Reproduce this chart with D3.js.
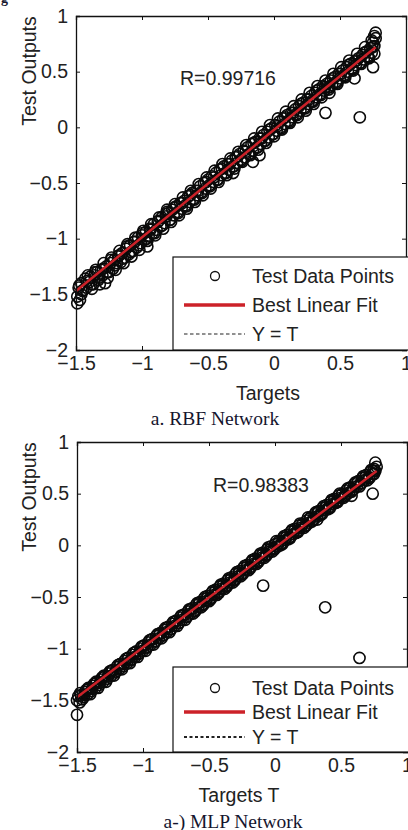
<!DOCTYPE html>
<html>
<head>
<meta charset="utf-8">
<script src="https://d3js.org/d3.v7.min.js"></script>
<style>
  body { margin: 0; background: #fff; }
  text { font-family: "Liberation Sans", Arial, sans-serif; fill: #222; }
  .cap { font-family: "Liberation Serif", "Times New Roman", serif; fill: #15152e; }
</style>
</head>
<body>
<div id="chart"></div>
<script>
// ---- data ----
var xTicks = [-1.5, -1, -0.5, 0, 0.5, 1];
var yTicks = [1, 0.5, 0, -0.5, -1, -1.5, -2];

// RBF network: [target, output]
var rbfPoints = [
  [-1.49,-1.52],[-1.49,-1.58],[-1.48,-1.44],[-1.47,-1.55],[-1.46,-1.40],[-1.45,-1.47],
  [-1.43,-1.36],[-1.42,-1.44],[-1.40,-1.39],[-1.39,-1.34],[-1.37,-1.41],[-1.36,-1.33],
  [-1.34,-1.30],[-1.33,-1.37],[-1.31,-1.28],[-1.30,-1.33],[-1.28,-1.40],[-1.27,-1.25],
  [-1.25,-1.30],[-1.24,-1.22],[-1.22,-1.27],[-1.21,-1.19],[-1.19,-1.22],[-1.18,-1.16],
  [-1.16,-1.21],[-1.15,-1.13],[-1.13,-1.17],[-1.12,-1.09],[-1.10,-1.14],[-1.09,-1.06],
  [-1.07,-1.11],[-1.06,-1.03],[-1.04,-1.08],[-1.03,-0.99],[-1.01,-1.04],[-1.00,-0.97],
  [-0.98,-1.01],[-0.97,-0.94],[-0.96,-1.07],[-0.95,-0.98],[-0.94,-0.91],[-0.92,-0.95],
  [-0.91,-0.87],[-0.89,-0.92],[-0.88,-0.85],[-0.86,-0.89],[-0.85,-0.81],[-0.83,-0.86],
  [-0.82,-0.78],[-0.81,-0.74],[-0.80,-0.77],[-0.79,-0.83],[-0.77,-0.74],[-0.76,-0.79],
  [-0.74,-0.71],[-0.73,-0.76],[-0.71,-0.68],[-0.70,-0.73],[-0.68,-0.66],[-0.67,-0.70],
  [-0.65,-0.62],[-0.64,-0.67],[-0.62,-0.59],[-0.61,-0.64],[-0.59,-0.57],[-0.58,-0.61],
  [-0.56,-0.53],[-0.55,-0.58],[-0.53,-0.50],[-0.52,-0.55],[-0.50,-0.47],[-0.49,-0.52],
  [-0.47,-0.44],[-0.46,-0.49],[-0.44,-0.41],[-0.43,-0.47],[-0.41,-0.38],[-0.40,-0.43],
  [-0.38,-0.35],[-0.37,-0.41],[-0.35,-0.33],[-0.34,-0.38],[-0.32,-0.30],[-0.31,-0.41],
  [-0.31,-0.35],[-0.29,-0.27],[-0.28,-0.32],[-0.26,-0.24],[-0.25,-0.29],[-0.23,-0.21],
  [-0.22,-0.27],[-0.20,-0.18],[-0.19,-0.24],[-0.17,-0.15],[-0.16,-0.31],[-0.16,-0.21],
  [-0.14,-0.13],[-0.13,-0.18],[-0.11,-0.25],[-0.11,-0.10],[-0.10,-0.15],[-0.08,-0.07],
  [-0.07,-0.12],[-0.05,-0.04],[-0.04,-0.09],[-0.02,-0.01],[-0.01,-0.06],[0.01,0.02],
  [0.02,-0.03],[0.04,0.05],[0.05,0.00],[0.07,0.08],[0.08,0.03],[0.10,0.11],
  [0.11,0.06],[0.13,0.13],[0.14,0.09],[0.16,0.16],[0.17,0.12],[0.19,0.19],
  [0.20,0.15],[0.22,0.22],[0.23,0.18],[0.25,0.25],[0.26,0.21],[0.28,0.28],
  [0.29,0.24],[0.31,0.31],[0.32,0.27],[0.34,0.34],[0.35,0.30],[0.37,0.37],
  [0.38,0.33],[0.39,0.13],[0.40,0.39],[0.41,0.36],[0.42,0.31],[0.43,0.42],
  [0.44,0.38],[0.46,0.45],[0.47,0.41],[0.49,0.48],[0.50,0.44],[0.52,0.51],
  [0.53,0.47],[0.55,0.54],[0.56,0.50],[0.58,0.57],[0.59,0.53],[0.61,0.44],
  [0.61,0.59],[0.62,0.56],[0.64,0.62],[0.65,0.09],[0.65,0.58],[0.67,0.65],
  [0.68,0.61],[0.70,0.68],[0.71,0.64],[0.73,0.71],[0.74,0.67],[0.75,0.54],
  [0.75,0.76],[0.76,0.73],[0.76,0.82],[0.77,0.85]
];
// further RBF points forming the edges of the thick band
var rbfEdgePoints = [
  [-1.46,-1.50],[-1.41,-1.33],[-1.38,-1.45],[-1.35,-1.28],[-1.32,-1.41],[-1.29,-1.22],
  [-1.26,-1.35],[-1.23,-1.17],[-1.20,-1.28],[-1.17,-1.11],[-1.14,-1.22],[-1.11,-1.05],
  [-1.08,-1.16],[-1.05,-0.99],[-1.02,-1.10],[-0.99,-0.93],[-0.96,-1.02],[-0.93,-0.87],
  [-0.90,-0.97],[-0.87,-0.81],[-0.84,-0.91],[-0.81,-0.76],[-0.78,-0.85],[-0.75,-0.69],
  [-0.72,-0.79],[-0.69,-0.63],[-0.66,-0.73],[-0.63,-0.57],[-0.60,-0.67],[-0.57,-0.51],
  [-0.54,-0.61],[-0.51,-0.45],[-0.48,-0.55],[-0.45,-0.39],[-0.42,-0.49],[-0.39,-0.33],
  [-0.36,-0.43],[-0.33,-0.28],[-0.30,-0.37],[-0.27,-0.22],[-0.24,-0.31],[-0.21,-0.16],
  [-0.18,-0.25],[-0.15,-0.10],[-0.12,-0.20],[-0.09,-0.04],[-0.06,-0.14],[-0.03,0.02],
  [0.00,-0.08],[0.03,0.08],[0.06,-0.02],[0.09,0.14],[0.12,0.04],[0.15,0.19],
  [0.18,0.09],[0.21,0.25],[0.24,0.15],[0.27,0.31],[0.30,0.21],[0.33,0.37],
  [0.36,0.27],[0.39,0.42],[0.42,0.36],[0.45,0.48],[0.48,0.39],[0.51,0.54],
  [0.54,0.45],[0.57,0.60],[0.60,0.51],[0.63,0.66],[0.66,0.57],[0.69,0.72],
  [0.72,0.62],[0.74,0.78],[0.76,0.66],[0.77,0.80]
];
var rbfInnerPoints = [
  [-1.475,-1.42],[-1.445,-1.46],[-1.415,-1.38],[-1.385,-1.41],[-1.355,-1.30],[-1.325,-1.35],
  [-1.295,-1.27],[-1.265,-1.30],[-1.235,-1.19],[-1.205,-1.24],[-1.175,-1.15],[-1.145,-1.18],
  [-1.115,-1.07],[-1.085,-1.12],[-1.055,-1.03],[-1.025,-1.06],[-0.995,-0.95],[-0.965,-1.00],
  [-0.935,-0.92],[-0.905,-0.95],[-0.875,-0.84],[-0.845,-0.88],[-0.815,-0.80],[-0.785,-0.83],
  [-0.755,-0.72],[-0.725,-0.77],[-0.695,-0.68],[-0.665,-0.71],[-0.635,-0.61],[-0.605,-0.65],
  [-0.575,-0.57],[-0.545,-0.59],[-0.515,-0.49],[-0.485,-0.53],[-0.455,-0.45],[-0.425,-0.47],
  [-0.395,-0.37],[-0.365,-0.41],[-0.335,-0.33],[-0.305,-0.35],[-0.275,-0.26],[-0.245,-0.30],
  [-0.215,-0.22],[-0.185,-0.24],[-0.155,-0.14],[-0.125,-0.18],[-0.095,-0.10],[-0.065,-0.12],
  [-0.035,-0.02],[-0.005,-0.06],[0.025,0.01],[0.055,-0.01],[0.085,0.09],[0.115,0.05],
  [0.145,0.13],[0.175,0.11],[0.205,0.21],[0.235,0.17],[0.265,0.25],[0.295,0.23],
  [0.325,0.33],[0.355,0.29],[0.385,0.36],[0.415,0.34],[0.445,0.44],[0.475,0.40],
  [0.505,0.48],[0.535,0.46],[0.565,0.56],[0.595,0.52],[0.625,0.60],[0.655,0.58],
  [0.685,0.67],[0.715,0.63],[0.745,0.72]
];
var rbfFit = [[-1.5, -1.47], [0.77, 0.72]];
var rbfR = "R=0.99716";

// MLP network: [target, output]
var mlpPoints = [
  [-1.50,-1.50],[-1.50,-1.64],[-1.49,-1.46],[-1.48,-1.52],[-1.47,-1.45],[-1.45,-1.47],
  [-1.44,-1.42],[-1.42,-1.44],[-1.41,-1.39],[-1.39,-1.41],[-1.38,-1.36],[-1.36,-1.38],
  [-1.35,-1.33],[-1.33,-1.35],[-1.32,-1.30],[-1.30,-1.32],[-1.29,-1.27],[-1.27,-1.29],
  [-1.26,-1.24],[-1.24,-1.26],[-1.23,-1.21],[-1.21,-1.23],[-1.20,-1.18],[-1.18,-1.20],
  [-1.17,-1.15],[-1.15,-1.17],[-1.14,-1.12],[-1.12,-1.14],[-1.11,-1.09],[-1.09,-1.11],
  [-1.08,-1.06],[-1.06,-1.08],[-1.05,-1.03],[-1.03,-1.05],[-1.02,-1.00],[-1.00,-1.02],
  [-0.99,-0.97],[-0.97,-0.99],[-0.96,-0.94],[-0.94,-0.96],[-0.93,-0.91],[-0.91,-0.93],
  [-0.90,-0.88],[-0.88,-0.90],[-0.87,-0.85],[-0.85,-0.87],[-0.84,-0.82],[-0.82,-0.84],
  [-0.81,-0.79],[-0.79,-0.81],[-0.78,-0.76],[-0.76,-0.78],[-0.75,-0.73],[-0.73,-0.75],
  [-0.72,-0.70],[-0.70,-0.72],[-0.69,-0.67],[-0.67,-0.69],[-0.66,-0.64],[-0.64,-0.66],
  [-0.63,-0.61],[-0.61,-0.63],[-0.60,-0.58],[-0.58,-0.60],[-0.57,-0.55],[-0.55,-0.57],
  [-0.54,-0.52],[-0.52,-0.54],[-0.51,-0.49],[-0.49,-0.51],[-0.48,-0.46],[-0.46,-0.48],
  [-0.45,-0.43],[-0.43,-0.45],[-0.42,-0.40],[-0.40,-0.42],[-0.39,-0.37],[-0.37,-0.39],
  [-0.36,-0.34],[-0.34,-0.36],[-0.33,-0.31],[-0.31,-0.33],[-0.30,-0.28],[-0.28,-0.30],
  [-0.27,-0.25],[-0.25,-0.27],[-0.24,-0.22],[-0.22,-0.24],[-0.21,-0.19],[-0.19,-0.21],
  [-0.18,-0.16],[-0.16,-0.18],[-0.15,-0.13],[-0.13,-0.15],[-0.12,-0.10],[-0.10,-0.12],
  [-0.09,-0.39],[-0.09,-0.07],[-0.07,-0.09],[-0.06,-0.04],[-0.04,-0.06],[-0.03,-0.01],
  [-0.01,-0.03],[0.00,0.01],[0.02,-0.01],[0.03,0.04],[0.05,0.02],[0.06,0.07],
  [0.08,0.05],[0.09,0.10],[0.11,0.08],[0.12,0.13],[0.14,0.11],[0.15,0.16],
  [0.17,0.14],[0.18,0.19],[0.20,0.17],[0.21,0.21],[0.23,0.19],[0.24,0.24],
  [0.26,0.22],[0.27,0.27],[0.29,0.25],[0.30,0.30],[0.32,0.25],[0.32,0.28],
  [0.33,0.33],[0.35,0.31],[0.36,0.36],[0.38,-0.60],[0.38,0.34],[0.39,0.39],
  [0.41,0.37],[0.42,0.42],[0.44,0.40],[0.45,0.45],[0.47,0.43],[0.48,0.48],
  [0.50,0.46],[0.51,0.50],[0.53,0.48],[0.54,0.53],[0.56,0.51],[0.57,0.56],
  [0.58,0.48],[0.59,0.54],[0.60,0.59],[0.62,0.57],[0.63,0.62],[0.64,-1.09],
  [0.65,0.60],[0.66,0.65],[0.68,0.63],[0.69,0.68],[0.71,0.66],[0.72,0.71],
  [0.74,0.50],[0.74,0.69],[0.75,0.74],[0.76,0.72],[0.76,0.80],[0.77,0.76]
];
var mlpEdgePoints = [
  [-1.46,-1.49],[-1.43,-1.40],[-1.40,-1.44],[-1.37,-1.34],[-1.34,-1.38],[-1.31,-1.28],
  [-1.28,-1.32],[-1.25,-1.22],[-1.22,-1.26],[-1.19,-1.16],[-1.16,-1.20],[-1.13,-1.10],
  [-1.10,-1.14],[-1.07,-1.04],[-1.04,-1.08],[-1.01,-0.98],[-0.98,-1.02],[-0.95,-0.92],
  [-0.92,-0.96],[-0.89,-0.86],[-0.86,-0.90],[-0.83,-0.80],[-0.80,-0.84],[-0.77,-0.74],
  [-0.74,-0.78],[-0.71,-0.68],[-0.68,-0.72],[-0.65,-0.62],[-0.62,-0.66],[-0.59,-0.56],
  [-0.56,-0.60],[-0.53,-0.50],[-0.50,-0.54],[-0.47,-0.44],[-0.44,-0.48],[-0.41,-0.38],
  [-0.38,-0.42],[-0.35,-0.32],[-0.32,-0.36],[-0.29,-0.26],[-0.26,-0.30],[-0.23,-0.20],
  [-0.20,-0.24],[-0.17,-0.14],[-0.14,-0.18],[-0.11,-0.08],[-0.08,-0.12],[-0.05,-0.02],
  [-0.02,-0.06],[0.01,0.04],[0.04,0.00],[0.07,0.09],[0.10,0.06],[0.13,0.15],
  [0.16,0.12],[0.19,0.21],[0.22,0.17],[0.25,0.27],[0.28,0.23],[0.31,0.32],
  [0.34,0.29],[0.37,0.38],[0.40,0.35],[0.43,0.44],[0.46,0.41],[0.49,0.50],
  [0.52,0.46],[0.55,0.55],[0.58,0.52],[0.61,0.61],[0.64,0.57],[0.67,0.67],
  [0.70,0.63],[0.73,0.73],[0.75,0.69]
];
var mlpInnerPoints = [
  [-1.475,-1.43],[-1.445,-1.45],[-1.415,-1.38],[-1.385,-1.39],[-1.355,-1.32],[-1.325,-1.33],
  [-1.295,-1.26],[-1.265,-1.27],[-1.235,-1.21],[-1.205,-1.22],[-1.175,-1.15],[-1.145,-1.15],
  [-1.115,-1.09],[-1.085,-1.10],[-1.055,-1.03],[-1.025,-1.04],[-0.995,-0.97],[-0.965,-0.98],
  [-0.935,-0.91],[-0.905,-0.93],[-0.875,-0.86],[-0.845,-0.87],[-0.815,-0.80],[-0.785,-0.81],
  [-0.755,-0.74],[-0.725,-0.75],[-0.695,-0.68],[-0.665,-0.69],[-0.635,-0.62],[-0.605,-0.64],
  [-0.575,-0.56],[-0.545,-0.58],[-0.515,-0.51],[-0.485,-0.52],[-0.455,-0.45],[-0.425,-0.46],
  [-0.395,-0.39],[-0.365,-0.40],[-0.335,-0.33],[-0.305,-0.34],[-0.275,-0.27],[-0.245,-0.28],
  [-0.215,-0.21],[-0.185,-0.22],[-0.155,-0.15],[-0.125,-0.16],[-0.095,-0.09],[-0.065,-0.10],
  [-0.035,-0.04],[-0.005,-0.04],[0.025,0.02],[0.055,0.01],[0.085,0.08],[0.115,0.07],
  [0.145,0.14],[0.175,0.13],[0.205,0.20],[0.235,0.19],[0.265,0.26],[0.295,0.25],
  [0.325,0.32],[0.355,0.30],[0.385,0.37],[0.415,0.36],[0.445,0.43],[0.475,0.42],
  [0.505,0.49],[0.535,0.48],[0.565,0.55],[0.595,0.54],[0.625,0.61],[0.655,0.60],
  [0.685,0.66],[0.715,0.65],[0.745,0.72]
];
var mlpFit = [[-1.5, -1.47], [0.77, 0.72]];
var mlpR = "R=0.98383";

var legendLabels = ["Test Data Points", "Best Linear Fit", "Y = T"];

// ---- drawing ----
var FS = "19.5px";
var svg = d3.select("#chart").append("svg")
  .attr("width", 408).attr("height", 830)
  .style("display", "block");

svg.append("rect").attr("width", 408).attr("height", 830).attr("fill", "#fff");

// clipped caption of the figure above
svg.append("text").attr("class", "cap").attr("x", 1).attr("y", 3)
  .style("font-size", "14px").style("font-weight", "bold").text("g");

function panel(opt) {
  var x = d3.scaleLinear().domain([-1.5, 1]).range([opt.left, opt.right]);
  var y = d3.scaleLinear().domain([-2, 1]).range([opt.bottom, opt.top]);
  var g = svg.append("g");

  // y = t reference line (sits under the points)
  g.append("line")
    .attr("x1", x(-1.5)).attr("y1", y(-1.5)).attr("x2", x(0.77)).attr("y2", y(0.77))
    .attr("stroke", "#000").attr("stroke-width", 1).attr("stroke-dasharray", opt.dash);

  var all = opt.edge.concat(opt.inner, opt.points);
  g.selectAll("circle.pt").data(all).enter().append("circle")
    .attr("class", "pt")
    .attr("cx", function(d) { return x(d[0]); })
    .attr("cy", function(d) { return y(d[1]); })
    .attr("r", 5.6)
    .attr("fill", "none")
    .attr("stroke", "#0a0a0a")
    .attr("stroke-width", 1.6);

  // best linear fit
  g.append("line")
    .attr("x1", x(opt.fit[0][0])).attr("y1", y(opt.fit[0][1]))
    .attr("x2", x(opt.fit[1][0])).attr("y2", y(opt.fit[1][1]))
    .attr("stroke", "#cc2229").attr("stroke-width", 2.5);

  // frame with matlab-style inward ticks
  var axB = d3.axisBottom(x).tickValues(xTicks).tickSize(-4).tickFormat(d3.format("")).tickPadding(10);
  var axT = d3.axisTop(x).tickValues(xTicks).tickSize(-4).tickFormat("");
  var axL = d3.axisLeft(y).tickValues(yTicks).tickSize(-4).tickFormat(d3.format("")).tickPadding(8);
  var axR = d3.axisRight(y).tickValues(yTicks).tickSize(-4).tickFormat("");

  var gb = g.append("g").attr("transform", "translate(0," + opt.bottom + ")").call(axB);
  var gt = g.append("g").attr("transform", "translate(0," + opt.top + ")").call(axT);
  var gl = g.append("g").attr("transform", "translate(" + opt.left + ",0)").call(axL);
  var gr = g.append("g").attr("transform", "translate(" + opt.right + ",0)").call(axR);
  [gb, gt, gl, gr].forEach(function(a) {
    a.select(".domain").attr("stroke", "#111").attr("stroke-width", 1.3);
    a.selectAll(".tick line").attr("stroke", "#111");
    a.selectAll("text").style("font-size", FS).style("font-family", "Liberation Sans, Arial").attr("fill", "#222");
  });
  gb.selectAll(".tick text").attr("dy", "0.5em");

  // R value
  g.append("text").attr("x", opt.rx).attr("y", opt.ry)
    .style("font-size", FS).text(opt.r);

  // legend
  var lg = g.append("g");
  lg.append("rect")
    .attr("x", opt.legX).attr("y", opt.legTop)
    .attr("width", 260).attr("height", opt.bottom - opt.legTop)
    .attr("fill", "#fff").attr("stroke", "#111").attr("stroke-width", 1.2);
  opt.legRows.forEach(function(ry, i) {
    if (i === 0) {
      lg.append("circle").attr("cx", opt.legX + 42).attr("cy", ry).attr("r", 4.5)
        .attr("fill", "none").attr("stroke", "#111").attr("stroke-width", 1.3);
    } else {
      lg.append("line").attr("x1", opt.legX + 11).attr("x2", opt.legX + 72)
        .attr("y1", ry).attr("y2", ry)
        .attr("stroke", i === 1 ? "#cc2229" : "#222")
        .attr("stroke-width", i === 1 ? 3.5 : opt.legDashW)
        .attr("stroke-dasharray", i === 1 ? null : opt.legDash);
    }
    lg.append("text").attr("x", opt.legX + 79).attr("y", ry).attr("dy", "0.36em")
      .style("font-size", FS).text(legendLabels[i]);
  });

  // axis labels
  g.append("text")
    .attr("transform", "translate(" + 36 + "," + opt.ylabY + ") rotate(-90)")
    .attr("text-anchor", "middle").style("font-size", FS).text("Test Outputs");
  g.append("text").attr("x", opt.xlabX).attr("y", opt.xlabY)
    .attr("text-anchor", "middle").style("font-size", FS).text(opt.xlab);

  g.append("text").attr("class", "cap").attr("x", opt.capX).attr("y", opt.capY)
    .attr("text-anchor", "middle").style("font-size", "19.5px").text(opt.cap);
}

panel({
  points: rbfPoints, edge: rbfEdgePoints, inner: rbfInnerPoints, fit: rbfFit, r: rbfR,
  left: 76, right: 406, top: 16, bottom: 350,
  dash: "4,3", legDash: "3.5,2.5", legDashW: 1.2,
  rx: 180, ry: 85,
  legX: 173, legTop: 257, legRows: [276, 305, 334],
  ylabY: 71, xlabX: 268, xlabY: 400, xlab: "Targets",
  capX: 215, capY: 425, cap: "a. RBF Network"
});

panel({
  points: mlpPoints, edge: mlpEdgePoints, inner: mlpInnerPoints, fit: mlpFit, r: mlpR,
  left: 77, right: 407, top: 442, bottom: 752,
  dash: "2,2", legDash: "3,2.5", legDashW: 2,
  rx: 213, ry: 492,
  legX: 173, legTop: 667, legRows: [688, 712, 737],
  ylabY: 497, xlabX: 239, xlabY: 802, xlab: "Targets T",
  capX: 233, capY: 828, cap: "a-) MLP Network"
});
</script>
</body>
</html>
